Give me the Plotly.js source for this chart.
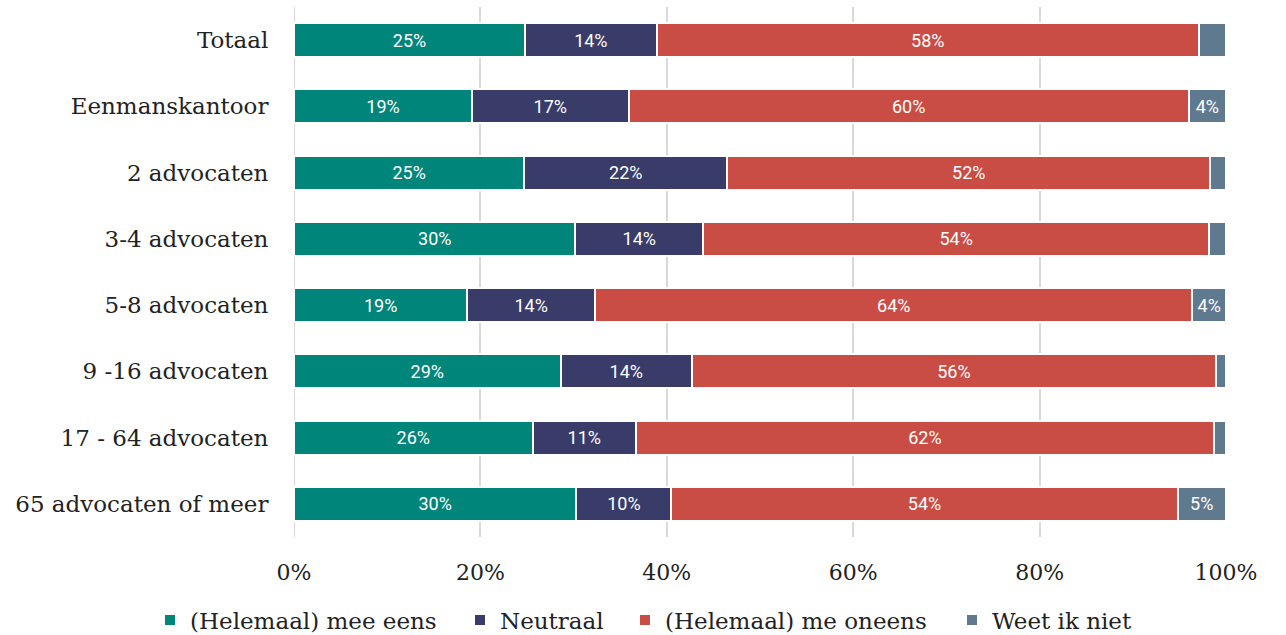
<!DOCTYPE html>
<html>
<head>
<meta charset="utf-8">
<script src="https://cdn.plot.ly/plotly-3.0.1.min.js"></script>
<style>html,body{margin:0;padding:0;background:#fff;}#chart{width:1286px;height:635px;}</style>
</head>
<body>
<div id="chart"></div>
<script>
const categories = ["Totaal", "Eenmanskantoor", "2 advocaten", "3-4 advocaten", "5-8 advocaten", "9 -16 advocaten", "17 - 64 advocaten", "65 advocaten of meer"];
const seriesNames = ["(Helemaal) mee eens", "Neutraal", "(Helemaal) me oneens", "Weet ik niet"];
const meeEens   = [24.8, 19.1, 24.7, 30.2, 18.6, 28.6, 25.6, 30.3];
const neutraal  = [14.1, 16.8, 21.8, 13.7, 13.7, 14.1, 11.1, 10.2];
const oneens    = [58.2, 60.1, 51.8, 54.3, 64.1, 56.2, 62.0, 54.3];
const weetNiet  = [2.9, 4.0, 1.7, 1.8, 3.6, 1.1, 1.3, 5.2];
const tickVals = [0, 20, 40, 60, 80, 100];
const tickText = ["0%", "20%", "40%", "60%", "80%", "100%"];
const colors = ["#00857a", "#393c68", "#c94d45", "#5f7a8f"];

const W = 1286, H = 635;
const serif = "DejaVu Serif, serif";
const legendNames = ["legend", "legend2", "legend3", "legend4"];
const legendLeftPx = [150, 460, 625, 952];

const allSeries = [meeEens, neutraal, oneens, weetNiet];
const traces = allSeries.map((vals, i) => ({
  type: "bar",
  orientation: "h",
  name: seriesNames[i],
  legend: legendNames[i],
  y: categories,
  x: vals,
  text: vals.map(v => v >= 3.5 ? Math.round(v) + "%" : ""),
  textposition: "inside",
  insidetextanchor: "middle",
  textangle: 0,
  textfont: {family: "Roboto, sans-serif", size: 18, color: "#ffffff"},
  constraintext: "none",
  hoverinfo: "skip",
  marker: {color: colors[i], line: {color: "#ffffff", width: 2}}
}));

const layout = {
  width: W, height: H,
  barmode: "stack",
  bargap: 0.49,
  margin: {l: 294, r: 60, t: 7, b: 98},
  paper_bgcolor: "#ffffff", plot_bgcolor: "#ffffff",
  showlegend: true,
  xaxis: {range: [0, 100], tickvals: tickVals, ticktext: tickText,
          showgrid: true, gridcolor: "#d9d9d9", gridwidth: 2,
          zeroline: false, showline: false,
          ticks: "outside", ticklen: 16, tickcolor: "rgba(0,0,0,0)",
          tickfont: {family: serif, size: 22, color: "#222222"}, fixedrange: true},
  yaxis: {autorange: "reversed", type: "category", showgrid: false, zeroline: false,
          showline: false, ticks: "outside", ticklen: 20, tickcolor: "rgba(0,0,0,0)",
          tickfont: {family: serif, size: 23, color: "#222222"}, fixedrange: true},
  shapes: [{type: "line", xref: "x", yref: "paper", x0: 0, x1: 0, y0: 0, y1: 1,
            line: {color: "#d9d9d9", width: 2}, layer: "below"}]
};
legendNames.forEach((ln, i) => {
  layout[ln] = {orientation: "h", xref: "container", yref: "container",
                x: legendLeftPx[i] / W, xanchor: "left",
                y: 15 / H, yanchor: "middle",
                font: {family: serif, size: 23, color: "#222222"},
                itemwidth: 30, bgcolor: "rgba(0,0,0,0)"};
});

Plotly.newPlot("chart", traces, layout, {displayModeBar: false, staticPlot: true});
</script>
</body>
</html>
